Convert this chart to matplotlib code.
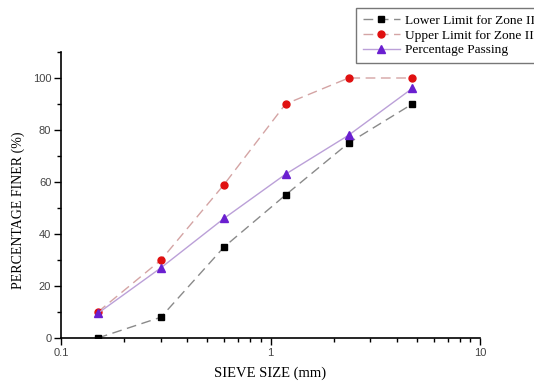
import numpy as np
import matplotlib
matplotlib.use('Agg')
import matplotlib.pyplot as plt
from matplotlib.ticker import LogLocator, MultipleLocator, FixedLocator, NullFormatter

sieve_size = [0.15, 0.3, 0.6, 1.18, 2.36, 4.75]
lower_limit = [0, 8, 35, 55, 75, 90]
upper_limit = [10, 30, 59, 90, 100, 100]
passing = [9.5, 27, 46, 63, 78, 96]

serif = 'Liberation Serif'
sans = 'Liberation Sans'

fig = plt.figure(figsize=(5.34, 3.83), dpi=100)
ax = fig.add_axes([61 / 534, 45 / 383, 419 / 534, 286 / 383])

ax.plot(sieve_size, lower_limit, color='#8a8a8a', linestyle=(0, (7, 4)), linewidth=1,
        marker='s', markersize=4, markerfacecolor='black', markeredgecolor='black',
        label='Lower Limit for Zone II')
ax.plot(sieve_size, upper_limit, color='#d4a4a4', linestyle=(0, (7, 4)), linewidth=1,
        marker='o', markersize=5, markerfacecolor='#e01010', markeredgecolor='#e01010',
        label='Upper Limit for Zone II')
ax.plot(sieve_size, passing, color='#bba0d8', linestyle='-', linewidth=1,
        marker='^', markersize=5.5, markerfacecolor='#6a1fd0', markeredgecolor='#6a1fd0',
        label='Percentage Passing')

ax.set_xscale('log')
ax.set_xlim(0.1, 10)
ax.set_ylim(0, 110)
ax.xaxis.set_major_locator(FixedLocator([0.1, 1, 10]))
ax.set_xticklabels(['0.1', '1', '10'])
ax.xaxis.set_minor_locator(LogLocator(base=10, subs=np.arange(2, 10)))
ax.xaxis.set_minor_formatter(NullFormatter())
ax.yaxis.set_major_locator(FixedLocator([0, 20, 40, 60, 80, 100]))
ax.yaxis.set_minor_locator(MultipleLocator(10))

for s in ['top', 'right']:
    ax.spines[s].set_visible(False)
for s in ['left', 'bottom']:
    ax.spines[s].set_linewidth(1.2)
ax.tick_params(which='major', direction='out', length=5, width=1, labelsize=8, pad=2)
ax.tick_params(which='minor', direction='out', length=3, width=1)
for lab in ax.get_xticklabels() + ax.get_yticklabels():
    lab.set_fontfamily(sans)
    lab.set_color('#444444')

ax.set_xlabel('SIEVE SIZE (mm)', fontfamily=serif, fontsize=10.5, labelpad=6)
ax.set_ylabel('PERCENTAGE FINER (%)', fontfamily=serif, fontsize=10)
ax.yaxis.set_label_coords(-0.086, 0.448)

leg = fig.legend(loc='upper left', bbox_to_anchor=(356 / 534, 1 - 8 / 383),
                 prop={'family': serif, 'size': 9.6}, frameon=True, fancybox=False,
                 edgecolor='#555555', handlelength=2.8, handletextpad=0.4,
                 borderpad=0.5, labelspacing=0.18, borderaxespad=0)
leg.get_frame().set_linewidth(1)

fig.savefig('out.png', dpi=100)
